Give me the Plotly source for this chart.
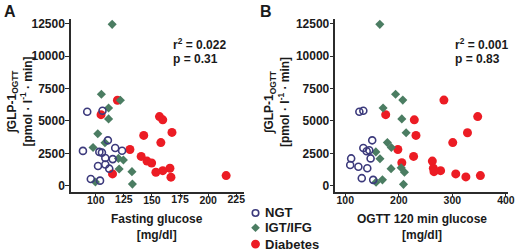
import plotly.graph_objects as go

# ---------------- data ----------------
# Panel A: fasting glucose [mg/dl] vs integrated GLP-1 (OGTT)
ngt_fasting = [92.4, 106, 110.8, 88.6, 103.2, 105.5, 117.3, 123.4, 108.5, 115.1, 102, 108.5, 112, 95.6, 103.8]
ngt_glp_a = [5716, 5792, 3506, 2690, 2614, 2560, 2919, 2700, 2140, 2058, 1524, 1640, 1320, 520, 395]
igt_fasting = [114.6, 105, 121.9, 111.4, 111.4, 101.8, 108.2, 97.6, 120.2, 124.6, 120.8, 132.2, 99.7, 132.6]
igt_glp_a = [12450, 7066, 6600, 5998, 5160, 4017, 3320, 2950, 2111, 1990, 1296, 1090, 290, 130]
dm_fasting = [119.3, 104.7, 156.7, 159.6, 167.8, 142.7, 157.9, 130.4, 140.4, 145.6, 149.7, 166, 159.6, 153.5, 114.9, 216, 166.9]
dm_glp_a = [6600, 5488, 5335, 5084, 4116, 3887, 3331, 2797, 2263, 1905, 1753, 1349, 1169, 1042, 915, 785, 663]

# Panel B: OGTT 120 min glucose [mg/dl] vs integrated GLP-1 (OGTT)
ngt_ogtt = [126.3, 133.7, 150.3, 133.7, 144.8, 140, 111, 147.3, 109.2, 124.5, 141.1, 130.8, 152.1]
ngt_glp_b = [5716, 5792, 3506, 2919, 2744, 2668, 2111, 2111, 1600, 1471, 1349, 587, 457]
igt_ogtt = [164.5, 193.9, 207.4, 170.6, 205.6, 213.6, 178.6, 186, 157.1, 164.8, 185.5, 204.4, 210.5, 169.4, 157.5, 208.7]
igt_glp_b = [12450, 7066, 6608, 5998, 5160, 4093, 3330, 2950, 2614, 2090, 1320, 1395, 1050, 457, 280, 110]
dm_ogtt = [284.2, 175.5, 347.3, 228.9, 328.2, 232, 300.7, 198.2, 227.6, 262.6, 205.6, 264.5, 278, 265.7, 306.3, 352.3, 325.2]
dm_glp_b = [6608, 5488, 5335, 5084, 4093, 3887, 3330, 2797, 2263, 1905, 1778, 1349, 1169, 1090, 915, 785, 686]

y_ticks = [0, 2500, 5000, 7500, 10000, 12500]
x_ticks_a = [100, 125, 150, 175, 200, 225]
x_ticks_b = [100, 200, 300, 400]

group_names = ["NGT", "IGT/IFG", "Diabetes"]
stats_a = ["r<sup>2</sup> = 0.022", "p = 0.31"]
stats_b = ["r<sup>2</sup> = 0.001", "p = 0.83"]

# ---------------- styling ----------------
W, H = 520, 251
FONT = "Liberation Sans, Arial, sans-serif"
NAVY = "#3c3a7c"
GREEN = "#4b7d62"
RED = "#ec1c24"
AX = "#2b2b2b"
TXT = "#1a1a1a"


def px(x):
    return x / W


def py(y):
    return 1 - y / H


ngt_marker = dict(symbol="circle-open", size=7, color=NAVY, line=dict(width=1.6, color=NAVY))
igt_marker = dict(symbol="diamond", size=7, color=GREEN, line=dict(width=0))
dm_marker = dict(symbol="circle", size=9, color=RED, line=dict(width=0))

fig = go.Figure()


def add_panel(xa, ya, ngt_x, ngt_y, igt_x, igt_y, dm_x, dm_y, ngt_xa=None):
    fig.add_trace(go.Scatter(x=dm_x, y=dm_y, mode="markers", marker=dm_marker,
                             xaxis=xa, yaxis=ya, showlegend=False, name=group_names[2]))
    fig.add_trace(go.Scatter(x=igt_x, y=igt_y, mode="markers", marker=igt_marker,
                             xaxis=xa, yaxis=ya, showlegend=False, name=group_names[1]))
    fig.add_trace(go.Scatter(x=ngt_x, y=ngt_y, mode="markers", marker=ngt_marker,
                             xaxis=ngt_xa or xa, yaxis=ya, showlegend=False, name=group_names[0]))


# Panel A: the NGT series sits on an overlaid x axis with identical domain/range,
# which carries the intermediate tick labels (125, 175, 225).
add_panel("x", "y", ngt_fasting, ngt_glp_a, igt_fasting, igt_glp_a, dm_fasting, dm_glp_a,
          ngt_xa="x3")
add_panel("x2", "y2", ngt_ogtt, ngt_glp_b, igt_ogtt, igt_glp_b, dm_ogtt, dm_glp_b)

ydom = [py(192), py(17)]
xdom_a = [px(72), px(247)]
xrange_a = [78, 231.6]
axis_common = dict(showline=True, linecolor=AX, linewidth=1.5, ticks="outside", ticklen=4,
                   tickwidth=1.3, tickcolor=AX, showgrid=False, zeroline=False,
                   tickformat="d")
x_extra = dict(ticklabelstandoff=-6, ticklabeloverflow="allow", tickangle=0,
               tickmode="array",
               tickfont=dict(family=FONT, size=10.5, color=TXT, weight="bold"))
y_extra = dict(ticklabelstandoff=-2,
               tickfont=dict(family=FONT, size=12, color=TXT, weight="bold"))

fig.update_layout(
    width=W, height=H, margin=dict(l=0, r=0, t=0, b=0),
    paper_bgcolor="white", plot_bgcolor="white", showlegend=False,
    font=dict(family=FONT, size=12, color=TXT),
    xaxis=dict(domain=xdom_a, range=xrange_a, tickvals=x_ticks_a[0::2],
               anchor="y", **axis_common, **x_extra),
    xaxis3=dict(domain=xdom_a, range=xrange_a, tickvals=x_ticks_a[1::2],
                anchor="y", overlaying="x", side="bottom",
                **{**axis_common, "showline": False}, **x_extra),
    yaxis=dict(domain=ydom, range=[-457, 12880], tickvals=y_ticks, anchor="x",
               **axis_common, **y_extra),
    xaxis2=dict(domain=[px(340), px(515)], range=[81.6, 404], tickvals=x_ticks_b,
                anchor="y2", **axis_common, **x_extra),
    yaxis2=dict(domain=ydom, range=[-457, 12880], tickvals=y_ticks, anchor="x2",
                **axis_common, **y_extra),
)

ann = []


def text(x, y, s, size=12, xanchor="center", yanchor="middle", angle=0, bold=True, align="center"):
    ann.append(dict(x=px(x), y=py(y), xref="paper", yref="paper", text=s, showarrow=False,
                    xanchor=xanchor, yanchor=yanchor, textangle=angle, align=align,
                    font=dict(family=FONT, size=size, color=TXT,
                              weight="bold" if bold else "normal")))


# panel letters
text(10, 10, "A", size=16)
text(270, 10, "B", size=16)

# y-axis titles
ytitle = "∫GLP-1<sub>OGTT</sub><br>[pmol · l<sup>-1</sup> · min]"
text(20, 101, ytitle, size=12, angle=-90)
text(281, 101, ytitle, size=12, angle=-90)

# x-axis titles
text(159.5, 227.5, "Fasting glucose<br>[mg/dl]", size=12)
text(427.5, 227.5, "OGTT 120 min glucose<br>[mg/dl]", size=12)

# statistics
text(173, 43, stats_a[0], size=12, xanchor="left")
text(173, 58, stats_a[1], size=12, xanchor="left")
text(459, 43, stats_b[0], size=12, xanchor="left")
text(459, 58, stats_b[1], size=12, xanchor="left")

# manual legend
leg_rows = [213.5, 228.5, 245.0]
for name, yy in zip(group_names, leg_rows):
    text(267, yy, name, size=13, xanchor="left")

shapes = []
lx = 259
r = 3.3
shapes.append(dict(type="circle", xref="paper", yref="paper",
                   x0=px(lx - r), x1=px(lx + r), y0=py(leg_rows[0] + r), y1=py(leg_rows[0] - r),
                   line=dict(color=NAVY, width=1.6), fillcolor="rgba(0,0,0,0)"))
d = 4.4
yy = leg_rows[1]
shapes.append(dict(type="path", xref="paper", yref="paper",
                   path=f"M {px(lx)},{py(yy - d)} L {px(lx + d)},{py(yy)} L {px(lx)},{py(yy + d)} L {px(lx - d)},{py(yy)} Z",
                   line=dict(width=0), fillcolor=GREEN))
r2 = 4.5
yy = leg_rows[2]
shapes.append(dict(type="circle", xref="paper", yref="paper",
                   x0=px(lx - r2), x1=px(lx + r2), y0=py(yy + r2), y1=py(yy - r2),
                   line=dict(width=0), fillcolor=RED))

fig.update_layout(annotations=ann, shapes=shapes)
fig.write_html("out.html", config={"displayModeBar": False},
               post_script="document.body.style.margin='0px';")
